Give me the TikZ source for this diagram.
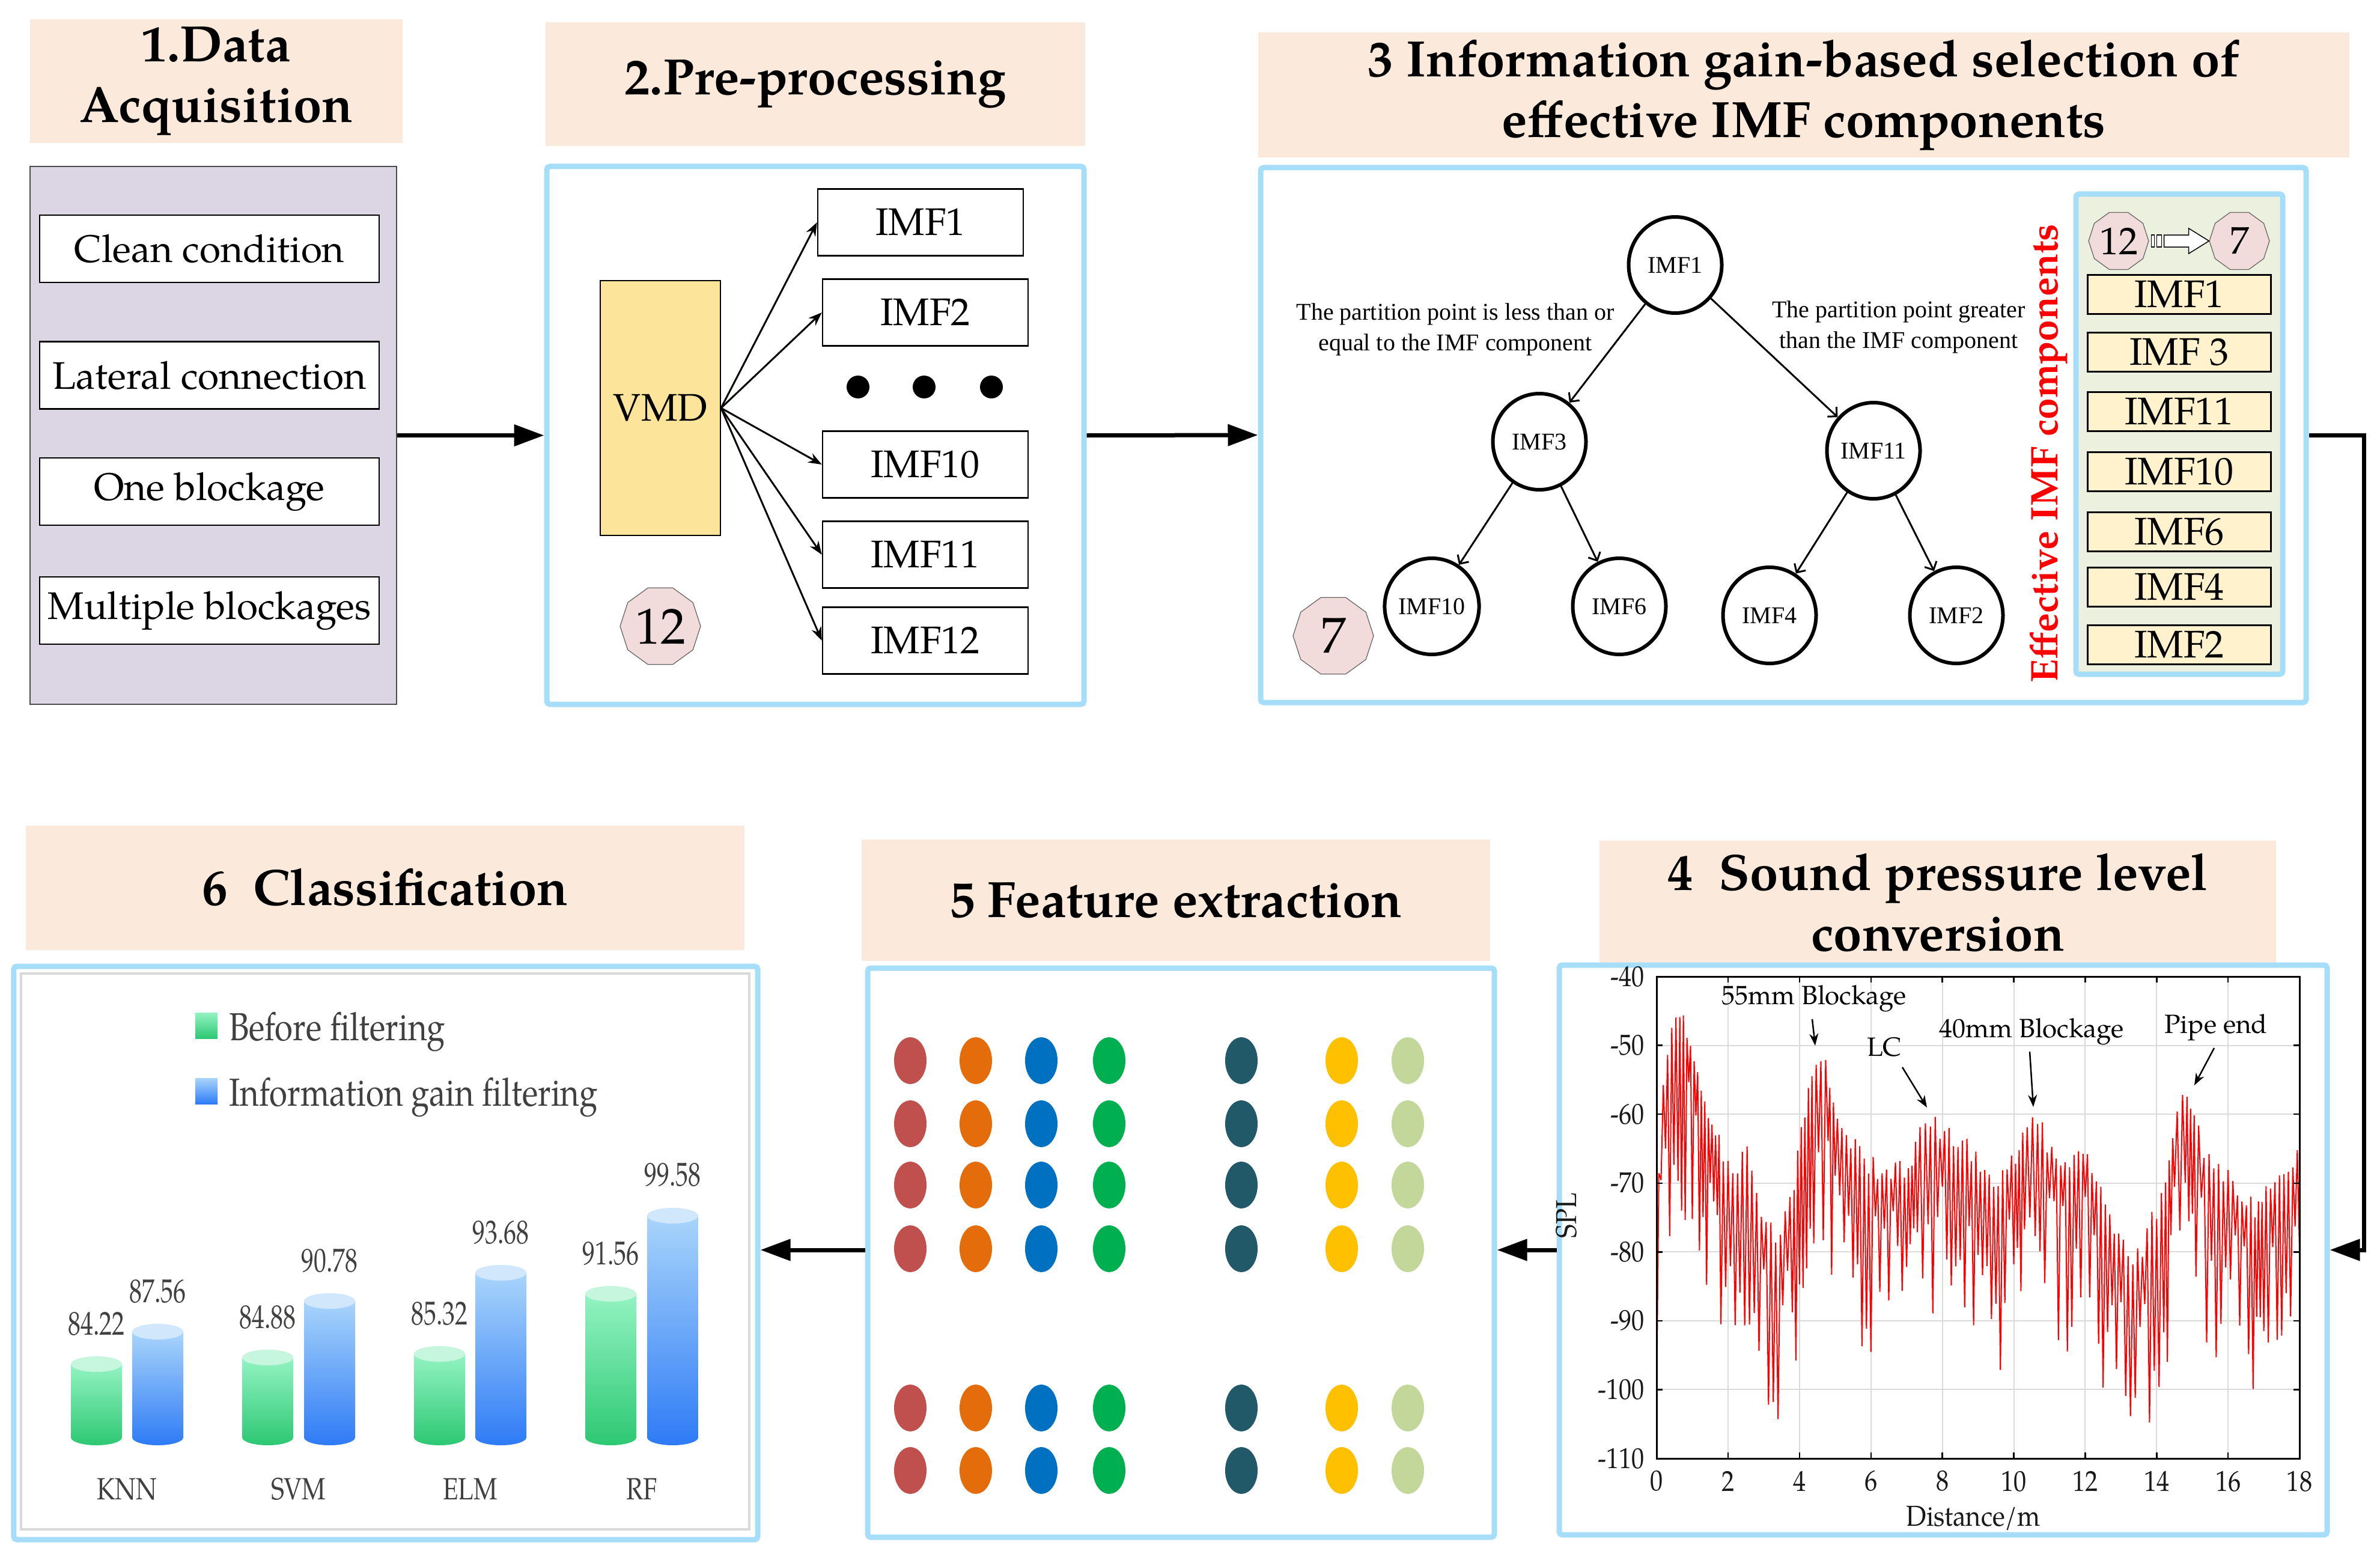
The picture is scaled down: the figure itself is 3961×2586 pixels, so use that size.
\documentclass[tikz,border=0pt]{standalone}
\usepackage{fontspec}
\setmainfont{TeX Gyre Pagella}
\newfontfamily\timesf{Liberation Serif}
\usepackage{graphicx}
\usetikzlibrary{arrows.meta,shapes.geometric,calc}
\definecolor{titlefill}{HTML}{FBE9DC}
\definecolor{panelblue}{HTML}{A6DEFA}
\definecolor{graypanel}{HTML}{DCD6E4}
\definecolor{vmdfill}{HTML}{FDE49B}
\definecolor{polyfill}{HTML}{F1DCDB}
\definecolor{greenpanel}{HTML}{EBF1DE}
\definecolor{imffill}{HTML}{FFF2CC}
\definecolor{gridgray}{HTML}{DADADA}
\definecolor{txtgray}{HTML}{404040}
\definecolor{dotA}{HTML}{C0504D}
\definecolor{dotB}{HTML}{E46C0A}
\definecolor{dotC}{HTML}{0070C0}
\definecolor{dotD}{HTML}{00B050}
\definecolor{dotE}{HTML}{215968}
\definecolor{dotF}{HTML}{FFC000}
\definecolor{dotG}{HTML}{C4D79B}
\definecolor{gtop}{HTML}{93F3C2}
\definecolor{gbot}{HTML}{2DC873}
\definecolor{btop}{HTML}{A9D5FB}
\definecolor{bbot}{HTML}{2E7BF6}
\definecolor{gcap}{HTML}{C6F6DD}
\definecolor{bcap}{HTML}{D0E7FC}
\newcommand{\cond}[2][0.8]{\scalebox{#1}[1]{#2}}
\newcommand{\cyl}[5]{%
  \shade[top color=#3, bottom color=#4] (#1-42.5,#2) -- (#1-42.5,2392)
    arc[start angle=180,end angle=360,x radius=8.5pt,y radius=2.6pt] -- (#1+42.5,#2) -- cycle;
  \fill[#5] (#1,#2) ellipse [x radius=8.5pt, y radius=2.6pt];}
\begin{document}
\begin{tikzpicture}[x=0.2pt,y=-0.2pt,
  titlebox/.style={fill=titlefill, inner sep=0, align=center, font=\bfseries\fontsize{17}{20.2}\selectfont},
  bluepanel/.style={draw=panelblue, line width=1.8pt, rounded corners=1pt, inner sep=0},
  whitebox/.style={draw=black, fill=white, line width=0.5pt, minimum width=113pt, minimum height=22.4pt, inner sep=0, font=\fontsize{12.8}{15}\selectfont},
  imfbox/.style={draw=black, fill=white, line width=0.5pt, minimum width=68.4pt, minimum height=22.2pt, inner sep=0, font=\fontsize{12.8}{15}\selectfont},
  flow/.style={line width=1.4pt, line join=miter, -{Triangle[length=10pt,width=7pt]}},
  split/.style={line width=0.6pt, -{Stealth[length=4.5pt,width=3.4pt]}},
  treenode/.style={ellipse, draw, line width=1.2pt, minimum width=31pt, minimum height=32pt, inner sep=0, font=\timesf\fontsize{8}{9}\selectfont},
  treearrow/.style={line width=0.6pt, -{Straight Barb[length=2.2pt,width=4.4pt]}},
  poly/.style={regular polygon, regular polygon sides=10, draw=black!60, line width=0.25pt, fill=polyfill, inner sep=0},
  listbox/.style={draw=black, fill=imffill, line width=0.5pt, minimum width=61pt, minimum height=13pt, inner sep=0, font=\fontsize{12.8}{13}\selectfont},
  dot/.style={ellipse, minimum width=10.8pt, minimum height=15.6pt, inner sep=0},
  ticklbl/.style={font=\fontsize{9.6}{10}\selectfont, text=black!90, inner sep=0},
  annot/.style={font=\fontsize{8.8}{10}\selectfont, inner sep=0},
  annarrow/.style={line width=0.5pt, -{Stealth[length=4pt,width=3pt]}},
  chartlbl/.style={text=txtgray, inner sep=0}]
\path[use as bounding box, fill=white] (0,0) rectangle (3961,2586);

% ---------- titles ----------
\node[titlebox, minimum width=124pt, minimum height=41pt] (t1) at (360,135) {1.Data\\Acquisition};
\node[titlebox, minimum width=179.6pt, minimum height=41.2pt] (t2) at (1357,140) {2.Pre-processing};
\node[titlebox, minimum width=363.2pt, minimum height=41.4pt] (t3) at (3002,158) {3 Information gain-based selection of\\effective IMF components};
\node[titlebox, minimum width=225.2pt, minimum height=41.2pt] (t4) at (3225,1502) {4\enspace Sound pressure level\\conversion};
\node[titlebox, minimum width=209.2pt, minimum height=40.4pt] (t5) at (1957,1498) {5 Feature extraction};
\node[titlebox, minimum width=239pt, minimum height=41.4pt] (t6) at (641,1477) {6\enspace Classification};

% ---------- panel 1 ----------
\node[draw=black!70, line width=0.4pt, fill=graypanel, minimum width=122pt, minimum height=179pt, inner sep=0] (p1) at (355,724.5) {};
\node[whitebox] (c1) at (348.5,414) {Clean condition};
\node[whitebox] (c2) at (348.5,624.5) {Lateral connection};
\node[whitebox] (c3) at (348.5,818) {One blockage};
\node[whitebox] (c4) at (348.5,1016) {Multiple blockages};

% ---------- panel 2 ----------
\node[bluepanel, minimum width=178.8pt, minimum height=179pt] (p2) at (1357,724.5) {};
\node[draw=black, line width=0.4pt, fill=vmdfill, minimum width=40pt, minimum height=84.8pt, inner sep=0, font=\fontsize{12.8}{15}\selectfont] (vmd) at (1099,679) {VMD};
\node[imfbox] (i1) at (1532,370) {IMF1};
\node[imfbox] (i2) at (1540,520) {IMF2};
\node[imfbox] (i10) at (1540,773) {IMF10};
\node[imfbox] (i11) at (1540,923) {IMF11};
\node[imfbox] (i12) at (1540,1066) {IMF12};
\node[circle, fill=black, minimum size=7.6pt, inner sep=0] (dt1) at (1428,644) {};
\node[circle, fill=black, minimum size=7.6pt, inner sep=0] (dt2) at (1538,644) {};
\node[circle, fill=black, minimum size=7.6pt, inner sep=0] (dt3) at (1650,644) {};
\node[poly, minimum size=26.8pt, font=\fontsize{16.8}{17}\selectfont] (n12) at (1099,1042) {12};
\foreach \t in {i1,i2,i10,i11,i12} \draw[split] (vmd.east) -- (\t.west);

% ---------- panel 3 ----------
\node[bluepanel, minimum width=348pt, minimum height=178pt] (p3) at (2968,724) {};
\node[treenode] (m1) at (2788,441) {IMF1};
\node[treenode] (m3) at (2562,735) {IMF3};
\node[treenode] (m11) at (3118,750) {IMF11};
\node[treenode] (m10) at (2383,1009) {IMF10};
\node[treenode] (m6) at (2695,1009) {IMF6};
\node[treenode] (m4) at (2945,1024) {IMF4};
\node[treenode] (m2) at (3256,1024) {IMF2};
\draw[treearrow] (m1) -- (m3);
\draw[treearrow] (m1) -- (m11);
\draw[treearrow] (m3) -- (m10);
\draw[treearrow] (m3) -- (m6);
\draw[treearrow] (m11) -- (m4);
\draw[treearrow] (m11) -- (m2);
\node[align=center, inner sep=0, font=\timesf\fontsize{8}{10.2}\selectfont] (lleft) at (2422,548) {The partition point is less than or\\equal to the IMF component};
\node[align=center, inner sep=0, font=\timesf\fontsize{8}{10.2}\selectfont] (lright) at (3160,544) {The partition point greater\\than the IMF component};
\node[poly, minimum size=26.8pt, font=\fontsize{16.8}{17}\selectfont] (n7) at (2219,1058) {7};
\node[rotate=90, text=red, inner sep=0, font=\bfseries\fontsize{12.8}{14}\selectfont] (eff) at (3410,755) {Effective IMF components};
\node[draw=panelblue, line width=1.8pt, fill=greenpanel, rounded corners=1pt, minimum width=68.8pt, minimum height=159.8pt, inner sep=0] (g3) at (3627,722.5) {};
\node[poly, minimum size=20pt, font=\fontsize{12.8}{13}\selectfont] (p12s) at (3526,401) {12};
\node[poly, minimum size=20pt, font=\fontsize{12.8}{13}\selectfont] (p7s) at (3727,401) {7};
\coordinate (ha) at ($(p12s.east)+(4,0)$);
\draw[line width=0.3pt, fill=white] ($(ha)+(0,-10)$) rectangle ++(5,20);
\draw[line width=0.3pt, fill=white] ($(ha)+(9,-10)$) rectangle ++(8,20);
\draw[line width=0.3pt, fill=white] ($(ha)+(21,-10)$) -- ($(ha)+(62,-10)$) -- ($(ha)+(62,-21)$) -- (p7s.west) -- ($(ha)+(62,21)$) -- ($(ha)+(62,10)$) -- ($(ha)+(21,10)$) -- cycle;
\node[listbox] (l1) at (3627,490) {IMF1};
\node[listbox] (l2) at (3627,586) {IMF 3};
\node[listbox] (l3) at (3627,685) {IMF11};
\node[listbox] (l4) at (3627,785) {IMF10};
\node[listbox] (l5) at (3627,885) {IMF6};
\node[listbox] (l6) at (3627,977) {IMF4};
\node[listbox] (l7) at (3627,1073) {IMF2};

% ---------- panel 4 : SPL plot ----------
\node[bluepanel, minimum width=255.6pt, minimum height=189.6pt] (p4) at (3234,2080) {};
\begin{scope}[shift={(551.4pt,-485.4pt)}, x=11.889pt, y=2.2914pt]
  \foreach \i in {2,4,...,16} \draw[gridgray, line width=0.4pt] (\i,0) -- (\i,70);
  \foreach \j in {10,20,...,60} \draw[gridgray, line width=0.4pt] (0,\j) -- (18,\j);
  \begin{scope}
    \clip (0,0) rectangle (18,70);
    \pgfmathsetseed{12}
    \draw[red, line width=0.4pt, line join=bevel] (0,8)
    \foreach \xa/\ya/\xb/\yb/\nn in {0/-72/0.25/-50/4, 0.25/-50/0.6/-44/6, 0.6/-44/0.9/-47/6, 0.9/-47/1.2/-53/6, 1.2/-53/1.5/-58/6, 1.5/-58/1.8/-63/6, 1.8/-63/2.2/-66/6, 2.2/-66/2.6/-64/6, 2.6/-64/3.0/-73/6, 3.0/-73/3.4/-76/6, 3.4/-76/3.8/-70/6, 3.8/-70/4.1/-60/6, 4.1/-60/4.4/-51/6, 4.4/-51/4.8/-52/6, 4.8/-52/5.0/-58/4, 5.0/-58/5.5/-63/8, 5.5/-63/6.0/-66/8, 6.0/-66/6.5/-66/8, 6.5/-66/7.0/-66/8, 7.0/-66/7.3/-62/6, 7.3/-62/7.6/-58/4, 7.6/-58/8.0/-61/6, 8.0/-61/8.5/-62/8, 8.5/-62/9.0/-65/8, 9.0/-65/9.5/-68/8, 9.5/-68/10.0/-65/8, 10.0/-65/10.3/-62/6, 10.3/-62/10.6/-59/4, 10.6/-59/11.0/-63/6, 11.0/-63/11.5/-65/8, 11.5/-65/12.0/-63/8, 12.0/-63/12.5/-70/8, 12.5/-70/13.0/-77/8, 13.0/-77/13.4/-80/6, 13.4/-80/13.8/-75/6, 13.8/-75/14.2/-69/6, 14.2/-69/14.5/-60/6, 14.5/-60/14.8/-55/4, 14.8/-55/15.1/-57/6, 15.1/-57/15.4/-65/4, 15.4/-65/15.8/-66/6, 15.8/-66/16.2/-68/6, 16.2/-68/16.7/-72/8, 16.7/-72/17.0/-70/6, 17.0/-70/17.5/-66/8, 17.5/-66/18.0/-64/8}
    { \foreach \k in {1,...,\nn} { -- ({\xa+\k*(\xb-\xa)/\nn},{110+(\ya)+\k*((\yb)-(\ya))/\nn-ifthenelse(isodd(\k),3.5*rnd,8+22*rnd)}) } };
  \end{scope}
  \foreach \i in {0,2,...,18} {
    \draw[line width=0.5pt] (\i,0) -- ++(0,0.9);
    \draw[line width=0.5pt] (\i,70) -- ++(0,-0.9);
    \node[ticklbl] (xt\i) at (\i,-3.3) {\cond[0.88]{\i}};
  }
  \foreach \j in {0,10,...,70} {
    \draw[line width=0.5pt] (0,\j) -- ++(0.17,0);
    \draw[line width=0.5pt] (18,\j) -- ++(-0.17,0);
  }
  \foreach \v [evaluate=\v as \yy using \v+110] in {-40,-50,-60,-70,-80,-90,-100,-110}
    \node[ticklbl, anchor=east] (yt\yy) at (-0.33,\yy) {\cond[0.88]{\v}};
  \draw[line width=0.6pt] (0,0) rectangle (18,70);
  \node[ticklbl] (xlab) at (8.87,-8.7) {\cond[0.9]{Distance/m}};
  \node[ticklbl, rotate=90] (ylab) at (-2.52,35.3) {\cond[0.9]{SPL}};
\end{scope}
\node[annot] (a55) at (3019,1662) {55mm Blockage};
\node[annot] (alc) at (3136,1742) {LC};
\node[annot] (a40) at (3381,1717) {40mm Blockage};
\node[annot] (ape) at (3688,1710) {Pipe end};
\coordinate (a55t) at (3016,1696); \coordinate (a55h) at (3021,1740);
\coordinate (alct) at (3166,1776); \coordinate (alch) at (3207,1843);
\coordinate (a40t) at (3378,1750); \coordinate (a40h) at (3384,1842);
\coordinate (apet) at (3685,1744); \coordinate (apeh) at (3652,1806);
\draw[annarrow] (a55t) -- (a55h);
\draw[annarrow] (alct) -- (alch);
\draw[annarrow] (a40t) -- (a40h);
\draw[annarrow] (apet) -- (apeh);

% ---------- panel 5 ----------
\node[bluepanel, minimum width=208.6pt, minimum height=189.4pt] (p5) at (1965.5,2084.5) {};
\foreach \cx/\cc [count=\ci] in {1515/dotA,1624/dotB,1733/dotC,1846/dotD,2066/dotE,2233/dotF,2343/dotG}
  \foreach \ry [count=\ri] in {1765,1870,1972,2078,2343,2447}
    \node[dot, fill=\cc] (d\ci-\ri) at (\cx,\ry) {};

% ---------- panel 6 ----------
\node[bluepanel, minimum width=247.6pt, minimum height=190.8pt] (p6) at (642,2085) {};
\draw[black!15, line width=0.8pt] (35,1620) rectangle (1247,2545);
\shade[top color=gtop, bottom color=gbot] (325,1685) rectangle (362,1728);
\shade[top color=btop, bottom color=bbot] (325,1794) rectangle (362,1837);
\node[chartlbl, anchor=base west, font=\fontsize{13}{14}\selectfont] (lg1) at (380,1731) {\cond[0.84]{Before filtering}};
\node[chartlbl, anchor=base west, font=\fontsize{13}{14}\selectfont] (lg2) at (380,1840) {\cond[0.84]{Information gain filtering}};
\cyl{160.5}{2270}{gtop}{gbot}{gcap}
\cyl{262.5}{2216}{btop}{bbot}{bcap}
\cyl{445.5}{2259}{gtop}{gbot}{gcap}
\cyl{548.5}{2165}{btop}{bbot}{bcap}
\cyl{731.5}{2253}{gtop}{gbot}{gcap}
\cyl{833.5}{2118}{btop}{bbot}{bcap}
\cyl{1016.5}{2153}{gtop}{gbot}{gcap}
\cyl{1119.5}{2023}{btop}{bbot}{bcap}
\foreach \vx/\vy/\vt [count=\vi] in {160.5/2221/84.22, 262.5/2167/87.56, 445.5/2210/84.88, 548.5/2116/90.78, 731.5/2204/85.32, 833.5/2069/93.68, 1016.5/2104/91.56, 1119.5/1973/99.58}
  \node[chartlbl, anchor=base, font=\fontsize{11}{12}\selectfont] (val\vi) at (\vx,\vy) {\cond[0.76]{\vt}};
\foreach \kx/\kt [count=\ki] in {211.5/KNN, 497/SVM, 782.5/ELM, 1068/RF}
  \node[chartlbl, anchor=base, font=\fontsize{10.2}{11}\selectfont] (cat\ki) at (\kx,2495) {\cond[0.82]{\kt}};

% ---------- flow connectors ----------
\draw[flow] (p1.east) -- (p2.west);
\draw[flow] (p2.east) -- (p3.west);
\draw[flow] (p3.east) -- ++(92,0) |- (p4.east);
\draw[flow] (p4.west) -- (p4.west -| p5.east);
\draw[flow] (p5.west |- p4.west) -- (p4.west -| p6.east);
\end{tikzpicture}
\end{document}
